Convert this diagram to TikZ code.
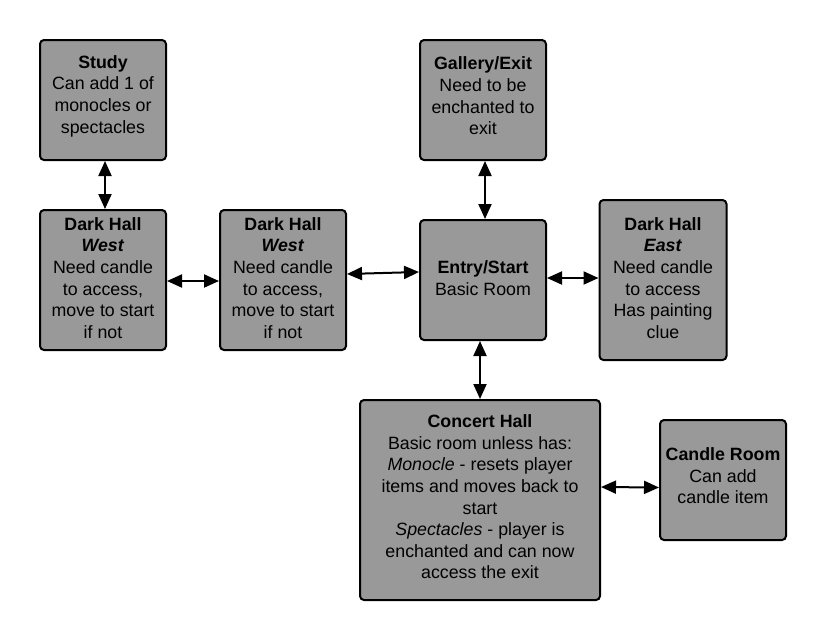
\documentclass[tikz,border=0pt]{standalone}
\usepackage{fontspec}
\setmainfont{Liberation Sans}
\usetikzlibrary{arrows.meta}
\definecolor{boxgray}{RGB}{153,153,153}
\begin{document}
\begin{tikzpicture}[x=1pt,y=-1pt,
  room/.style={draw=black, line width=2pt, fill=boxgray, rounded corners=4pt, inner sep=0pt},
  txt/.style={align=center, font=\fontsize{17.8}{21.6}\selectfont, inner sep=0pt},
  link/.style={line width=2pt, {Triangle[length=15pt,width=13pt]}-{Triangle[length=15pt,width=13pt]}}]
\useasboundingbox (0,0) rectangle (826,640);
% boxes
\node[room, minimum width=126pt, minimum height=120pt] (study) at (103,100) {};
\node[room, minimum width=126pt, minimum height=140pt] (dhw1) at (103,280) {};
\node[room, minimum width=126pt, minimum height=140pt] (dhw2) at (283,280) {};
\node[room, minimum width=126pt, minimum height=120pt] (gallery) at (483,100) {};
\node[room, minimum width=126pt, minimum height=120pt] (entry) at (483,280) {};
\node[room, minimum width=127pt, minimum height=160pt] (dhe) at (663,280) {};
\node[room, minimum width=240pt, minimum height=200pt] (concert) at (480,500) {};
\node[room, minimum width=126pt, minimum height=120pt] (candle) at (723,480) {};
% texts
\node[txt] (tstudy) at (103,96) {\textbf{Study}\\Can add 1 of\\monocles or\\spectacles};
\node[txt] (tdhw1) at (103,278) {\textbf{Dark Hall}\\\textbf{\textit{West}}\\Need candle\\to access,\\move to start\\if not};
\node[txt] (tdhw2) at (283,278) {\textbf{Dark Hall}\\\textbf{\textit{West}}\\Need candle\\to access,\\move to start\\if not};
\node[txt] (tgallery) at (483,96) {\textbf{Gallery/Exit}\\Need to be\\enchanted to\\exit};
\node[txt] (tentry) at (483,278) {\textbf{Entry/Start}\\Basic Room};
\node[txt] (tdhe) at (663,278) {\textbf{Dark Hall}\\\textbf{\textit{East}}\\Need candle\\to access\\Has painting\\clue};
\node[txt] (tconcert) at (480,497) {\textbf{Concert Hall}\\Basic room unless has:\\\textit{Monocle} - resets player\\items and moves back to\\start\\\textit{Spectacles} - player is\\enchanted and can now\\access the exit};
\node[txt] (tcandle) at (723,476) {\textbf{Candle Room}\\Can add\\candle item};
% connectors
\draw[link] ([xshift=2pt]study.south) -- ([xshift=2pt]dhw1.north);
\draw[link] ([yshift=-1pt]dhw1.east) -- ([yshift=-1pt]dhw2.west);
\draw[link] ([yshift=6pt]dhw2.east) -- ([yshift=8pt]entry.west);
\draw[link] ([xshift=2pt]gallery.south) -- ([xshift=2pt]entry.north);
\draw[link] ([yshift=2pt]entry.east) -- ([yshift=2pt]dhe.west);
\draw[link] ([xshift=-3pt]entry.south) -- (concert.north);
\draw[link] ([yshift=13pt]concert.east) -- ([yshift=-7.5pt]candle.west);
\end{tikzpicture}
\end{document}
